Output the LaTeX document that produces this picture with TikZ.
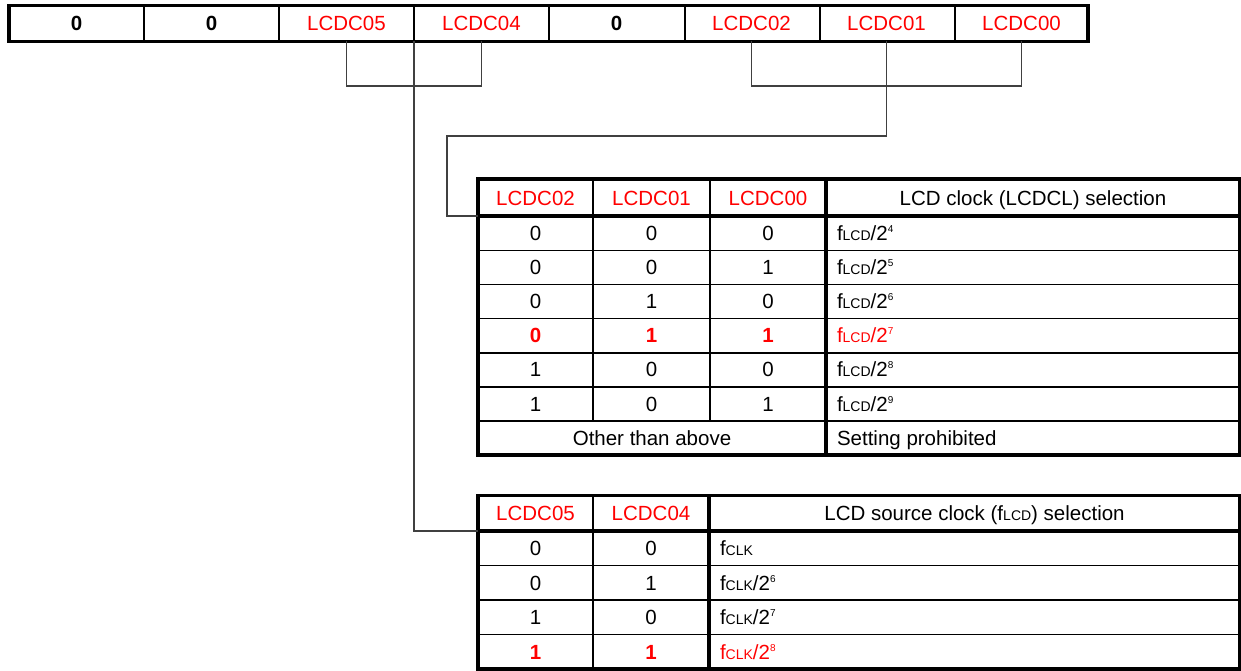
\documentclass[tikz,border=0pt]{standalone}
\usepackage{fontspec}
\setmainfont{Liberation Sans}
\newcommand\fl{f{\fontsize{14}{14}\selectfont LCD}}
\newcommand\fc{f{\fontsize{14}{14}\selectfont CLK}}
\newcommand\ex[1]{\raisebox{8pt}{\fontsize{10}{10}\selectfont #1}}
\begin{document}
\begin{tikzpicture}[x=1pt,y=-1pt,
  txt/.style={inner sep=0pt,outer sep=0pt,text height=15pt,text depth=0pt,font=\fontsize{20.5}{21}\selectfont},
  regcell/.style={txt,minimum width=135pt,minimum height=36pt},
  regbit/.style={regcell,font=\fontsize{20.5}{21}\selectfont\bfseries},
  regname/.style={regcell,text=red},
  hd/.style={txt,minimum width=115pt,text=red},
  val/.style={txt},
  valh/.style={txt,text=red,font=\fontsize{20.5}{21}\selectfont\bfseries},
  desc/.style={txt,anchor=west},
  desch/.style={desc,text=red},
  thickln/.style={line width=3.2pt},
  midln/.style={line width=2pt},
  thinln/.style={line width=1.5pt},
  conn/.style={line width=1.3pt,black!75}]
\useasboundingbox (0,0) rectangle (1241,671);

% ---------- register ----------
\node[regbit]  (r7) at (76.5,23.5)   {0};
\node[regbit]  (r6) at (211.5,23.5)  {0};
\node[regname] (r5) at (346.5,23.5)  {LCDC05};
\node[regname] (r4) at (481.5,23.5)  {LCDC04};
\node[regbit]  (r3) at (616.5,23.5)  {0};
\node[regname] (r2) at (751.5,23.5)  {LCDC02};
\node[regname] (r1) at (886.5,23.5)  {LCDC01};
\node[regname] (r0) at (1021.5,23.5) {LCDC00};
\foreach \x in {144,279,414,549,685,820,955}
  \draw[midln] (\x,5.5) -- (\x,41.5);
\draw[thickln] (9,5.5) rectangle (1088,41.5);

% ---------- table 1 ----------
\node[hd,minimum height=37pt] (t1h1) at (535.5,197.5) {LCDC02};
\node[hd,minimum height=37pt] (t1h2) at (651.5,197.5) {LCDC01};
\node[hd,minimum height=37pt] (t1h3) at (768,197.5)   {LCDC00};
\node[txt] (t1h4) at (1033,197.5) {LCD clock (LCDCL) selection};

\node[val] (t1a1) at (535.5,233.0) {0};
\node[val] (t1b1) at (651.5,233.0) {0};
\node[val] (t1c1) at (768,233.0)   {0};
\node[desc] (t1d1) at (837,233.0)  {\fl/2\ex{4}};
\node[val] (t1a2) at (535.5,267.1) {0};
\node[val] (t1b2) at (651.5,267.1) {0};
\node[val] (t1c2) at (768,267.1)   {1};
\node[desc] (t1d2) at (837,267.1)  {\fl/2\ex{5}};
\node[val] (t1a3) at (535.5,301.2) {0};
\node[val] (t1b3) at (651.5,301.2) {1};
\node[val] (t1c3) at (768,301.2)   {0};
\node[desc] (t1d3) at (837,301.2)  {\fl/2\ex{6}};
\node[valh] (t1a4) at (535.5,335.3) {0};
\node[valh] (t1b4) at (651.5,335.3) {1};
\node[valh] (t1c4) at (768,335.3)   {1};
\node[desch] (t1d4) at (837,335.3)  {\fl/2\ex{7}};
\node[val] (t1a5) at (535.5,369.4) {1};
\node[val] (t1b5) at (651.5,369.4) {0};
\node[val] (t1c5) at (768,369.4)   {0};
\node[desc] (t1d5) at (837,369.4)  {\fl/2\ex{8}};
\node[val] (t1a6) at (535.5,403.5) {1};
\node[val] (t1b6) at (651.5,403.5) {0};
\node[val] (t1c6) at (768,403.5)   {1};
\node[desc] (t1d6) at (837,403.5)  {\fl/2\ex{9}};
\node[val] (t1a7) at (652,437.6) {Other than above};
\node[desc] (t1d7) at (837,437.6) {Setting prohibited};

\foreach \y in {250.5,284.6,318.7,352.8,386.9,420.9}
  \draw[thinln] (478,\y) -- (1240,\y);
\foreach \x in {593,710}
  \draw[thinln] (\x,179) -- (\x,420.9);
\draw[thickln] (478,216) -- (1240,216);
\draw[thickln] (826,179) -- (826,455);
\draw[thickln] (478,179) rectangle (1239.5,455);

% ---------- table 2 ----------
\node[hd,minimum height=35.5pt] (t2h1) at (535.5,513.25) {LCDC05};
\node[hd,minimum height=35.5pt] (t2h2) at (651,513.25)   {LCDC04};
\node[txt] (t2h3) at (974.5,513.25) {LCD source clock (\fl) selection};

\node[val] (t2a1) at (535.5,548.25) {0};
\node[val] (t2b1) at (651,548.25)   {0};
\node[desc] (t2d1) at (720,548.25)  {\fc};
\node[val] (t2a2) at (535.5,582.75) {0};
\node[val] (t2b2) at (651,582.75)   {1};
\node[desc] (t2d2) at (720,582.75)  {\fc/2\ex{6}};
\node[val] (t2a3) at (535.5,617.25) {1};
\node[val] (t2b3) at (651,617.25)   {0};
\node[desc] (t2d3) at (720,617.25)  {\fc/2\ex{7}};
\node[valh] (t2a4) at (535.5,651.75) {1};
\node[valh] (t2b4) at (651,651.75)   {1};
\node[desch] (t2d4) at (720,651.75)  {\fc/2\ex{8}};

\foreach \y in {565.5,600,634.5}
  \draw[thinln] (478,\y) -- (1240,\y);
\draw[thinln] (593,495.5) -- (593,669);
\draw[thickln] (478,531) -- (1240,531);
\draw[thickln] (709,495.5) -- (709,669);
\draw[thickln] (478,495.5) rectangle (1239.5,669);

% ---------- connectors ----------
\coordinate (k54) at (414,86);
\coordinate (k20) at (884,86);
\coordinate (k1)  at (447,136);
\draw[conn] (r5.south) |- (k54) -| (r4.south);
\draw[conn] (r5.south east) |- (t2h1.south west);
\draw[conn] (r2.south) |- (k20) -| (r0.south);
\draw[conn] (r1.south) |- (k1) |- (t1h1.south west);
\end{tikzpicture}
\end{document}
